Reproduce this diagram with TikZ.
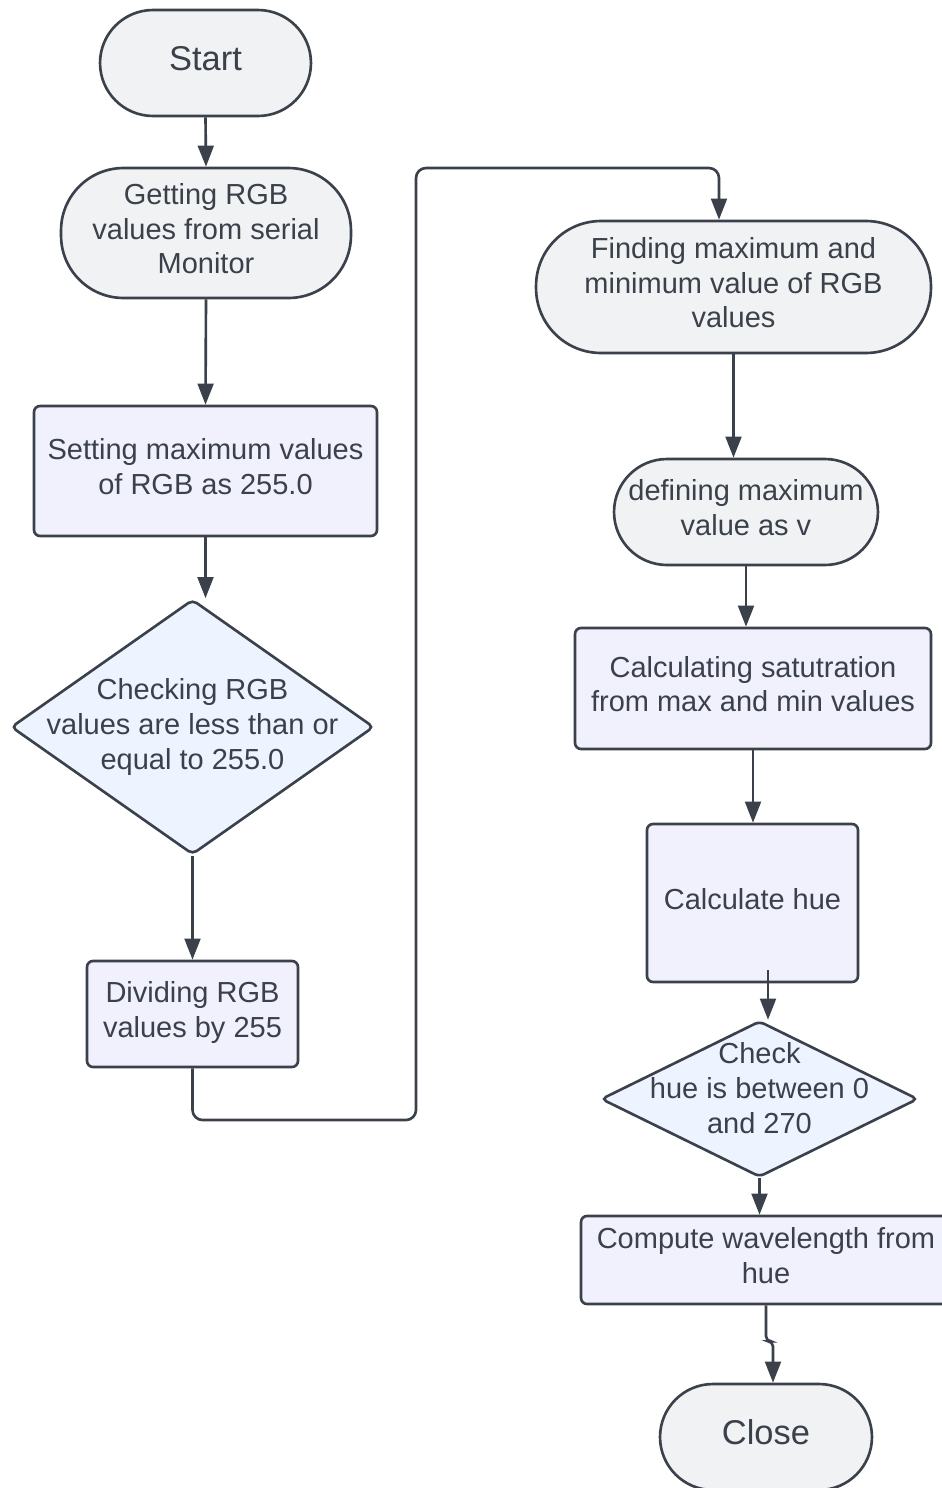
\documentclass[tikz,border=0pt]{standalone}
\usepackage{fontspec}
\setmainfont{Liberation Sans}
\usetikzlibrary{shapes.geometric,arrows.meta}

\definecolor{ink}{HTML}{3A414A}
\definecolor{termfill}{HTML}{F1F2F4}
\definecolor{procfill}{HTML}{F1F1FD}
\definecolor{decfill}{HTML}{EDF4FF}

\newcommand{\txtfont}{\fontsize{16.5}{19.9}\selectfont}
\newcommand{\bigfont}{\fontsize{19.6}{24}\selectfont}

\begin{document}
\begin{tikzpicture}[x=0.02cm, y=-0.02cm, line width=1.5pt, color=ink,
  term/.style = {draw, fill=termfill, rounded corners=1.06cm, minimum width=4.22cm, minimum height=2.12cm, align=center, font=\txtfont, inner sep=1pt, text depth=0.18cm},
  proc/.style = {draw, fill=procfill, rounded corners=0.12cm, align=center, font=\txtfont, inner sep=1pt, text depth=0.18cm},
  dec/.style = {draw, fill=decfill, diamond, rounded corners=0.1cm, inner sep=0pt},
  dtext/.style = {align=center, font=\txtfont, text=ink},
  arr/.style = {-{Triangle[length=12pt, width=9pt]}}]
\useasboundingbox (0,0) rectangle (942,1488);
\node[term, font=\bigfont] (1) at (205.5,63) {Start};
\node[term, rounded corners=1.25cm, minimum width=5.8cm, minimum height=2.6cm] (2) at (206,233) {Getting RGB\\values from serial\\Monitor};
\node[proc, minimum width=6.86cm, minimum height=2.6cm] (3) at (205.5,471) {Setting maximum values\\of RGB as 255.0};
\node[dec, minimum width=7.26cm, minimum height=5.1cm, label={[dtext]center:{Checking RGB\\values are less than or\\equal to 255.0}}] (4) at (192.5,727) {};
\node[proc, minimum width=4.22cm, minimum height=2.12cm] (5) at (192.5,1014) {Dividing RGB\\values by 255};
\node[term, rounded corners=1.3cm, minimum width=7.9cm, minimum height=2.64cm] (6) at (733.5,287) {Finding maximum and\\minimum value of RGB\\values};
\node[term, minimum width=5.28cm] (7) at (746,512) {defining maximum\\value as v};
\node[proc, minimum width=7.12cm, minimum height=2.42cm] (8) at (753,688.5) {Calculating satutration\\from max and min values};
\node[proc, minimum width=4.22cm, minimum height=3.16cm] (9) at (752.5,903) {Calculate hue};
\node[dec, minimum width=6.34cm, minimum height=3.12cm, label={[dtext, yshift=0.22cm]center:{Check\\hue is between 0\\and 270}}] (10) at (759.5,1099) {};
\node[proc, minimum width=7.4cm, minimum height=1.76cm] (11) at (766,1260) {Compute wavelength from\\hue};
\node[term, font=\bigfont, minimum width=4.24cm] (12) at (766,1437) {Close};
\coordinate (a) at (416,1120);
\coordinate (b) at (719,168);
\draw[arr] (1.south) -- (2.north);
\draw[arr] (2.south) -- (3.north);
\draw[arr] (3.south) -- (3.south |- 4.north);
\draw[arr] (4.south) -- (5.north);
\draw[arr, rounded corners=0.2cm] (5.south) |- (a) |- (b) -- (b |- 6.north);
\draw[arr] (6.south) -- (6.south |- 7.north);
\draw[arr] (7.south) -- (7.south |- 8.north);
\draw[arr] (8.south) -- (8.south |- 9.north);
\draw[arr] ([xshift=0.31cm, yshift=0.26cm]9.south) -- ([xshift=0.31cm]9.south |- 10.north);
\draw[arr] (10.south) -- (10.south |- 11.north);
\draw[arr, rounded corners=0.1cm] (11.south) -- ++(0,36) -- ++(7,0) -- ([xshift=0.14cm]12.north);
\end{tikzpicture}
\end{document}
